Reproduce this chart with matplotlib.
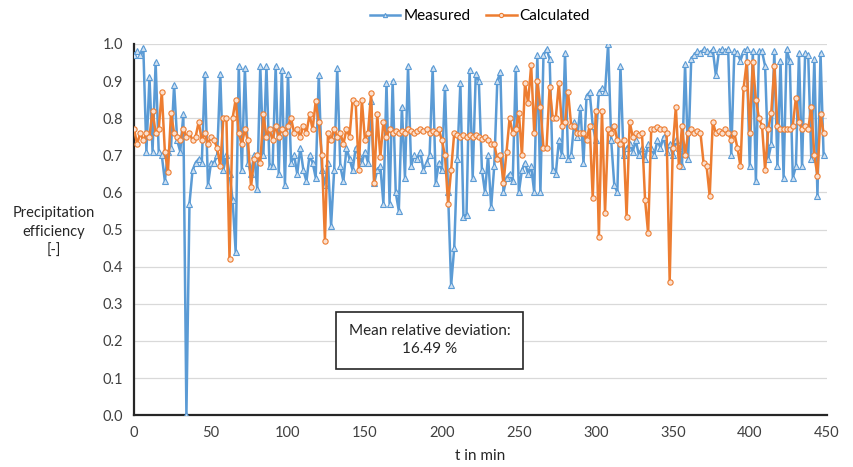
import numpy as np
import matplotlib
matplotlib.use("Agg")
import matplotlib.pyplot as plt

plt.rcParams['font.family'] = ['Lato', 'DejaVu Sans']

# time axis (min), 2-min sampling
t = np.arange(0, 450, 2)

measured = [
    0.97, 0.98, 0.97, 0.99, 0.71, 0.91, 0.71, 0.95, 0.71, 0.70,
    0.63, 0.71, 0.72, 0.89, 0.74, 0.71, 0.81, 0.00, 0.57, 0.66,
    0.68, 0.69, 0.68, 0.92, 0.62, 0.68, 0.68, 0.70, 0.92, 0.66,
    0.70, 0.65, 0.58, 0.44, 0.94, 0.66, 0.935, 0.68, 0.65, 0.70,
    0.61, 0.94, 0.70, 0.94, 0.67, 0.67, 0.94, 0.65, 0.93, 0.62,
    0.92, 0.68, 0.70, 0.65, 0.72, 0.66, 0.63, 0.70, 0.68, 0.64,
    0.915, 0.66, 0.62, 0.68, 0.51, 0.66, 0.935, 0.67, 0.63, 0.72,
    0.69, 0.66, 0.72, 0.70, 0.68, 0.71, 0.68, 0.845, 0.625, 0.66,
    0.67, 0.57, 0.895, 0.57, 0.90, 0.60, 0.55, 0.83, 0.64, 0.94,
    0.67, 0.70, 0.69, 0.71, 0.66, 0.68, 0.70, 0.935, 0.625, 0.68,
    0.66, 0.885, 0.60, 0.35, 0.45, 0.69, 0.895, 0.535, 0.54, 0.93,
    0.64, 0.92, 0.90, 0.66, 0.60, 0.70, 0.56, 0.67, 0.90, 0.925,
    0.60, 0.64, 0.65, 0.63, 0.935, 0.60, 0.66, 0.68, 0.65, 0.67,
    0.60, 0.97, 0.60, 0.97, 0.985, 0.96, 0.66, 0.65, 0.74, 0.70,
    0.975, 0.69, 0.70, 0.79, 0.75, 0.83, 0.68, 0.86, 0.87, 0.78,
    0.74, 0.87, 0.88, 0.87, 1.00, 0.74, 0.62, 0.60, 0.94, 0.70,
    0.72, 0.73, 0.71, 0.74, 0.70, 0.72, 0.69, 0.73, 0.72, 0.70,
    0.74, 0.72, 0.75, 0.71, 0.73, 0.70, 0.74, 0.72, 0.67, 0.945,
    0.69, 0.96, 0.97, 0.98, 0.975, 0.985, 0.98, 0.975, 0.985, 0.915,
    0.98, 0.985, 0.98, 0.985, 0.70, 0.98, 0.975, 0.955, 0.98, 0.985,
    0.67, 0.98, 0.63, 0.98, 0.98, 0.94, 0.69, 0.73, 0.98, 0.67,
    0.955, 0.64, 0.985, 0.955, 0.64, 0.67, 0.975, 0.67, 0.975, 0.97,
    0.69, 0.96, 0.59, 0.975, 0.70,
]

calculated = [
    0.77, 0.73, 0.76, 0.74, 0.76, 0.75, 0.82, 0.76, 0.77, 0.87,
    0.71, 0.655, 0.815, 0.76, 0.75, 0.74, 0.77, 0.75, 0.76, 0.74,
    0.75, 0.79, 0.74, 0.76, 0.73, 0.75, 0.74, 0.72, 0.67, 0.80,
    0.80, 0.42, 0.80, 0.85, 0.76, 0.73, 0.77, 0.74, 0.615, 0.69,
    0.70, 0.68, 0.81, 0.75, 0.77, 0.74, 0.78, 0.75, 0.77, 0.76,
    0.78, 0.80, 0.76, 0.77, 0.75, 0.78, 0.76, 0.81, 0.77, 0.845,
    0.79, 0.70, 0.47, 0.76, 0.74, 0.77, 0.75, 0.76, 0.73, 0.77,
    0.75, 0.85, 0.84, 0.66, 0.85, 0.74, 0.76, 0.867, 0.625, 0.81,
    0.695, 0.79, 0.75, 0.77, 0.76, 0.765, 0.76, 0.765, 0.76, 0.77,
    0.765, 0.76, 0.765, 0.77, 0.765, 0.77, 0.76, 0.765, 0.76, 0.77,
    0.74, 0.70, 0.57, 0.66, 0.76, 0.755, 0.75, 0.755, 0.75, 0.755,
    0.75, 0.755, 0.75, 0.745, 0.75, 0.74, 0.73, 0.73, 0.69, 0.70,
    0.625, 0.71, 0.80, 0.76, 0.77, 0.815, 0.70, 0.895, 0.84, 0.943,
    0.76, 0.90, 0.83, 0.72, 0.72, 0.885, 0.80, 0.80, 0.895, 0.78,
    0.79, 0.87, 0.78, 0.78, 0.76, 0.76, 0.76, 0.74, 0.78, 0.585,
    0.82, 0.48, 0.82, 0.545, 0.77, 0.76, 0.78, 0.74, 0.73, 0.74,
    0.535, 0.79, 0.75, 0.76, 0.755, 0.76, 0.58, 0.49, 0.77, 0.77,
    0.775, 0.77, 0.77, 0.76, 0.36, 0.72, 0.83, 0.67, 0.78, 0.70,
    0.76, 0.77, 0.76, 0.765, 0.76, 0.68, 0.67, 0.59, 0.79, 0.76,
    0.765, 0.76, 0.77, 0.76, 0.74, 0.76, 0.72, 0.67, 0.88, 0.95,
    0.76, 0.95, 0.85, 0.80, 0.78, 0.66, 0.77, 0.815, 0.94, 0.78,
    0.77, 0.77, 0.77, 0.77, 0.78, 0.855, 0.79, 0.77, 0.78, 0.77,
    0.83, 0.70, 0.645, 0.81, 0.76,
]

yticks = [0.0, 0.1, 0.2, 0.3, 0.4, 0.5, 0.6, 0.7, 0.8, 0.9, 1.0]
xticks = [0, 50, 100, 150, 200, 250, 300, 350, 400, 450]

blue = '#5B9BD5'
orange = '#ED7D31'

fig = plt.figure(figsize=(8.54, 4.67), dpi=100)
ax = fig.add_axes([0.157, 0.111, 0.811, 0.795])

ax.plot(t, measured, color=blue, lw=1.8, marker='^', ms=3.8,
        mfc='#cfe0f1', mec=blue, mew=0.8, label='Measured', zorder=3)
ax.plot(t, calculated, color=orange, lw=1.8, marker='o', ms=3.8,
        mfc='#fbe0cf', mec=orange, mew=0.8, label='Calculated', zorder=4)

ax.set_xlim(0, 450)
ax.set_ylim(0, 1.0)
ax.set_xticks(xticks)
ax.set_yticks(yticks)
ax.set_yticklabels([f'{v:.1f}' for v in yticks])
ax.grid(axis='y', color='#d9d9d9', lw=0.9)
ax.set_axisbelow(True)
for s in ['top', 'right']:
    ax.spines[s].set_visible(False)
for s in ['left', 'bottom']:
    ax.spines[s].set_color('#262626')
    ax.spines[s].set_linewidth(1.6)
ax.tick_params(axis='both', length=0, labelsize=10.5, colors='#404040', pad=8)

fig.text(54/854, 1 - 232/467, 'Precipitation\nefficiency\n[-]', ha='center',
         va='center', fontsize=10.5, color='#262626', linespacing=1.45)
fig.text(480/854, 1 - 456/467, 't in min', ha='center', va='center',
         fontsize=11, color='#262626')

ax.text(192, 0.202, 'Mean relative deviation:\n16.49 %', ha='center', va='center',
        fontsize=11, color='#262626', linespacing=1.4,
        bbox=dict(boxstyle='square,pad=0.8', fc='white', ec='#262626', lw=1.2),
        zorder=6)

fig.legend(loc='center', bbox_to_anchor=(480/854, 1 - 16/467), ncol=2,
           frameon=False, fontsize=11, handlelength=2.0, columnspacing=1.0,
           handletextpad=0.2, markerscale=0.8)

fig.savefig('out.png', dpi=100)
